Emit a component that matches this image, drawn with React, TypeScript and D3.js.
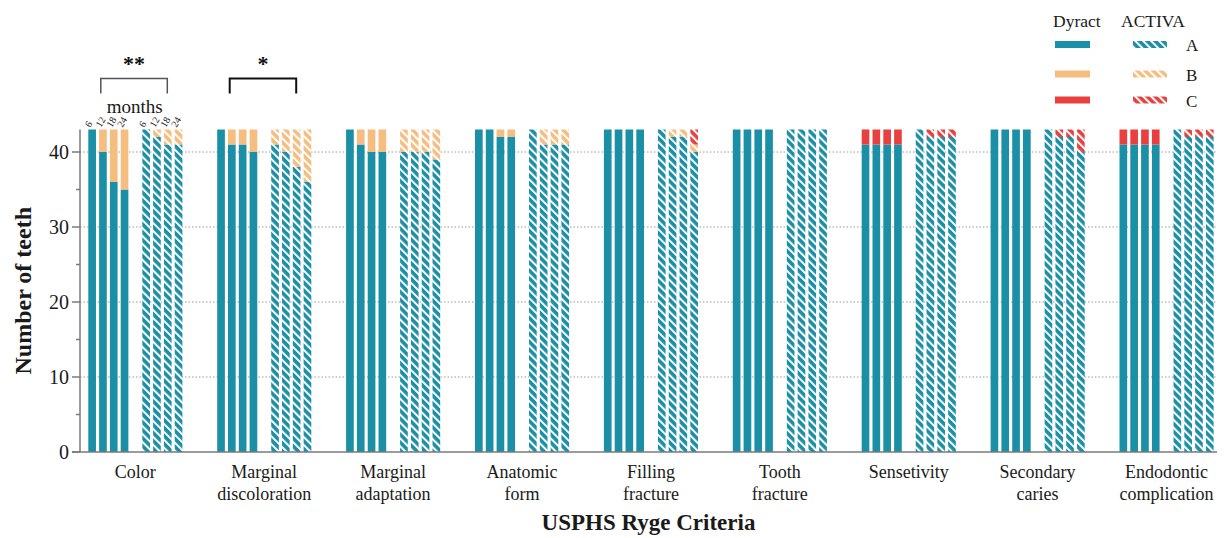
import React from "react";
import * as d3 from "d3";

// USPHS Ryge evaluation of Dyract vs ACTIVA restorations at 6, 12, 18 and 24 months
const categories = [
  "Color",
  "Marginal discoloration",
  "Marginal adaptation",
  "Anatomic form",
  "Filling fracture",
  "Tooth fracture",
  "Sensetivity",
  "Secondary caries",
  "Endodontic complication",
];
const categoryLines = [
  ["Color"],
  ["Marginal", "discoloration"],
  ["Marginal", "adaptation"],
  ["Anatomic", "form"],
  ["Filling", "fracture"],
  ["Tooth", "fracture"],
  ["Sensetivity"],
  ["Secondary", "caries"],
  ["Endodontic", "complication"],
];
const months = ["6", "12", "18", "24"];

// Dyract: counts of teeth scored A / B / C per month
const dyractA = [
  [43, 40, 36, 35],
  [43, 41, 41, 40],
  [43, 41, 40, 40],
  [43, 43, 42, 42],
  [43, 43, 43, 43],
  [43, 43, 43, 43],
  [41, 41, 41, 41],
  [43, 43, 43, 43],
  [41, 41, 41, 41],
];
const dyractB = [
  [0, 3, 7, 8],
  [0, 2, 2, 3],
  [0, 2, 3, 3],
  [0, 0, 1, 1],
  [0, 0, 0, 0],
  [0, 0, 0, 0],
  [0, 0, 0, 0],
  [0, 0, 0, 0],
  [0, 0, 0, 0],
];
const dyractC = [
  [0, 0, 0, 0],
  [0, 0, 0, 0],
  [0, 0, 0, 0],
  [0, 0, 0, 0],
  [0, 0, 0, 0],
  [0, 0, 0, 0],
  [2, 2, 2, 2],
  [0, 0, 0, 0],
  [2, 2, 2, 2],
];

// ACTIVA: counts of teeth scored A / B / C per month
const activaA = [
  [43, 42, 41, 41],
  [41, 40, 38, 36],
  [40, 40, 40, 39],
  [43, 41, 41, 41],
  [43, 42, 42, 40],
  [43, 43, 43, 43],
  [43, 42, 42, 42],
  [43, 42, 42, 40],
  [43, 42, 42, 42],
];
const activaB = [
  [0, 1, 2, 2],
  [2, 3, 5, 7],
  [3, 3, 3, 4],
  [0, 2, 2, 2],
  [0, 1, 1, 1],
  [0, 0, 0, 0],
  [0, 0, 0, 0],
  [0, 0, 0, 0],
  [0, 0, 0, 0],
];
const activaC = [
  [0, 0, 0, 0],
  [0, 0, 0, 0],
  [0, 0, 0, 0],
  [0, 0, 0, 0],
  [0, 0, 0, 2],
  [0, 0, 0, 0],
  [0, 1, 1, 1],
  [0, 1, 1, 3],
  [0, 1, 1, 1],
];

const yTicks = [0, 10, 20, 30, 40];
const yMinorTicks = [5, 15, 25, 35];
const grades = ["A", "B", "C"];
const significance = [
  { category: "Color", mark: "**" },
  { category: "Marginal discoloration", mark: "*" },
];

const W = 1224;
const H = 538;
const colors = { A: "#1a8fa5", B: "#f5bd80", C: "#e8403f" };
const font = "'Liberation Serif', 'Times New Roman', serif";
const ink = "#1a1a1a";

export default function App() {
  const axisX = 80;
  const axisRight = 1217;
  const y = d3.scaleLinear().domain([0, 43]).range([452, 129.5]);
  const x = d3.scalePoint<string>().domain(categories).range([135.3, 1166.5]);
  const slots = ["D0", "D1", "D2", "D3", "gap", "A0", "A1", "A2", "A3"];
  const inner = d3
    .scaleBand<string>()
    .domain(slots)
    .range([-47, 47.1])
    .paddingInner(0.29)
    .paddingOuter(0);
  const bw = inner.bandwidth();

  type Seg = { key: string; x: number; y0: number; y1: number; grade: string; hatched: boolean };
  const segs: Seg[] = [];
  categories.forEach((cat, ci) => {
    const cx = x(cat)!;
    months.forEach((_, mi) => {
      const groups = [
        { slot: "D" + mi, vals: [dyractA[ci][mi], dyractB[ci][mi], dyractC[ci][mi]], hatched: false },
        { slot: "A" + mi, vals: [activaA[ci][mi], activaB[ci][mi], activaC[ci][mi]], hatched: true },
      ];
      groups.forEach((g) => {
        let acc = 0;
        g.vals.forEach((v, gi) => {
          if (v > 0) {
            segs.push({
              key: `${ci}-${g.slot}-${gi}`,
              x: cx + inner(g.slot)!,
              y0: acc,
              y1: acc + v,
              grade: grades[gi],
              hatched: g.hatched,
            });
          }
          acc += v;
        });
      });
    });
  });

  const colorCx = x("Color")!;

  return (
    <svg width={W} height={H} style={{ position: "absolute", left: 0, top: 0, background: "#fff" }}>
      <defs>
        {grades.map((g) => (
          <pattern
            key={g}
            id={`hatch-${g}`}
            patternUnits="userSpaceOnUse"
            width={5.6}
            height={5.6}
            patternTransform="rotate(-45)"
          >
            <rect width={5.6} height={5.6} fill={(colors as any)[g]} />
            <rect x={0} y={0} width={2} height={5.6} fill="#fff" />
          </pattern>
        ))}
      </defs>
      <rect width={W} height={H} fill="#fff" />

      {/* gridlines */}
      {yTicks
        .filter((t) => t > 0)
        .map((t) => (
          <line
            key={`g${t}`}
            x1={axisX}
            x2={axisRight}
            y1={y(t)}
            y2={y(t)}
            stroke="#9a9a9a"
            strokeWidth={1}
            strokeDasharray="1.5,2"
          />
        ))}

      {/* stacked bars */}
      {segs.map((s) => (
        <rect
          key={s.key}
          x={s.x}
          y={y(s.y1)}
          width={bw}
          height={y(s.y0) - y(s.y1)}
          fill={s.hatched ? `url(#hatch-${s.grade})` : (colors as any)[s.grade]}
        />
      ))}

      {/* axes */}
      <line x1={axisX} x2={axisX} y1={y(0)} y2={y(43)} stroke="#7a7a7a" strokeWidth={1.5} />
      <line x1={axisX - 8} x2={axisRight} y1={y(0)} y2={y(0)} stroke="#7a7a7a" strokeWidth={1.5} />
      {yTicks.map((t) => (
        <g key={`t${t}`}>
          <line x1={axisX - 8} x2={axisX} y1={y(t)} y2={y(t)} stroke="#7a7a7a" strokeWidth={1.5} />
          <text
            x={axisX - 11}
            y={y(t)}
            dy="0.35em"
            textAnchor="end"
            fontFamily={font}
            fontSize={20}
            fill={ink}
          >
            {t}
          </text>
        </g>
      ))}
      {yMinorTicks.map((t) => (
        <line key={`m${t}`} x1={axisX - 4} x2={axisX} y1={y(t)} y2={y(t)} stroke="#7a7a7a" strokeWidth={1.5} />
      ))}

      {/* category labels */}
      {categories.map((cat, ci) => (
        <text key={cat} textAnchor="middle" fontFamily={font} fontSize={18} fill={ink}>
          {categoryLines[ci].map((line, li) => (
            <tspan key={li} x={x(cat)!} y={478 + li * 22}>
              {line}
            </tspan>
          ))}
        </text>
      ))}

      {/* axis titles */}
      <text
        x={(axisX + axisRight) / 2}
        y={530}
        textAnchor="middle"
        fontFamily={font}
        fontSize={23}
        fontWeight="bold"
        fill={ink}
      >
        USPHS Ryge Criteria
      </text>
      <text
        transform={`translate(31, ${(y(0) + y(43)) / 2}) rotate(-90)`}
        textAnchor="middle"
        fontFamily={font}
        fontSize={24}
        fontWeight="bold"
        fill={ink}
      >
        Number of teeth
      </text>

      {/* month labels above the Color bars */}
      <text x={colorCx - 0.5} y={113} textAnchor="middle" fontFamily={font} fontSize={19} fill={ink}>
        months
      </text>
      {months.map((m, mi) =>
        ["D", "A"].map((p) => {
          const bx = colorCx + inner(p + mi)! + bw / 2;
          return (
            <text
              key={p + m}
              transform={`translate(${bx - 2}, 128) rotate(-60)`}
              fontFamily={font}
              fontSize={10}
              fill={ink}
            >
              {m}
            </text>
          );
        })
      )}

      {/* significance brackets */}
      {significance.map((s, si) => {
        const cx = x(s.category)!;
        const x1 = cx - 34.5;
        const x2 = cx + 32;
        return (
          <g key={s.category}>
            <path
              d={`M${x1},93.5V78.5H${x2}V93.5`}
              fill="none"
              stroke={si === 0 ? "#555" : "#111"}
              strokeWidth={si === 0 ? 1.5 : 2}
            />
            <text
              x={(x1 + x2) / 2}
              y={71}
              textAnchor="middle"
              fontFamily={font}
              fontSize={22}
              fontWeight="bold"
              fill="#111"
            >
              {s.mark}
            </text>
          </g>
        );
      })}

      {/* legend */}
      <text x={1053} y={27} fontFamily={font} fontSize={17.5} fill={ink}>
        Dyract
      </text>
      <text x={1121} y={27} fontFamily={font} fontSize={17.5} fill={ink}>
        ACTIVA
      </text>
      {grades.map((g, gi) => {
        const ly = [41, 70.5, 96.5][gi];
        return (
          <g key={`lg${g}`}>
            <rect x={1055} y={ly} width={35} height={7} fill={(colors as any)[g]} />
            <rect x={1133} y={ly} width={34} height={7} fill={`url(#hatch-${g})`} />
            <text x={1186} y={ly + 10} fontFamily={font} fontSize={17} fill={ink}>
              {g}
            </text>
          </g>
        );
      })}
    </svg>
  );
}
